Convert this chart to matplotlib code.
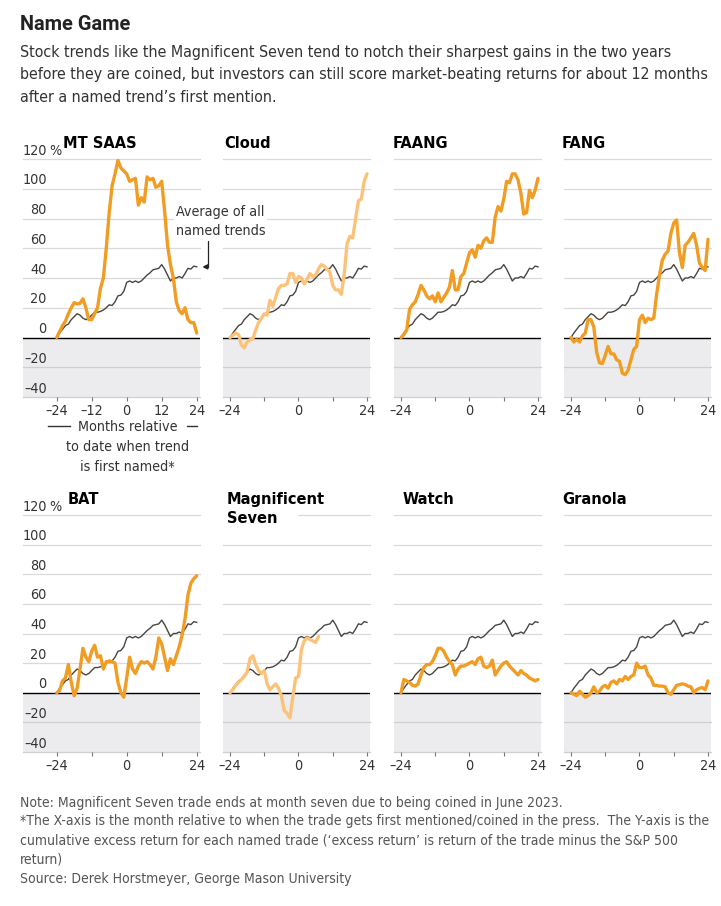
import os
import matplotlib
matplotlib.use("Agg")
import matplotlib.pyplot as plt
from matplotlib import font_manager
from matplotlib.font_manager import FontProperties
from matplotlib.lines import Line2D
from matplotlib.patches import Rectangle

# ---------------- data ----------------
months = list(range(-24, 25))

average = [0, 3, 5.5, 8, 9, 12, 14, 16, 15, 13, 12, 13,
           15, 17, 17, 17.5, 18.5, 20, 22, 21.5, 24, 28, 28.5, 31,
           37, 38, 37, 38, 37, 38, 40, 42, 43.5, 45.5, 46, 46.5,
           49, 46, 42, 38, 40, 40, 41, 40, 43, 46.5, 46, 48, 47.5]

mt_saas = [0, 4, 8, 11, 16, 20, 23.5, 22.5, 23, 26, 20, 12,
           12, 16, 20, 33, 40, 60, 84, 102, 110, 119, 114, 112,
           110, 105, 106, 107, 89, 94, 91, 108, 106, 107, 101, 102,
           105, 85, 62, 49, 40, 24, 18, 16, 20, 12, 10, 10, 3]

cloud = [0, 1.5, 3, 2, -5, -7, -3, -1.5, -1, 5, 10, 13,
         16, 15, 25, 21, 27, 33, 35, 35, 36, 43, 43, 37,
         41, 40, 36, 39, 43, 41, 42, 46, 49, 48, 46, 44,
         35, 32, 32, 29, 42, 63, 68, 67, 80, 92, 93, 105, 110]

faang = [0, 2, 5, 19, 22, 24, 29, 35, 32, 28, 26, 28,
         24, 30, 24, 27, 30, 34, 45, 32, 32, 41, 43, 50,
         57, 59, 54, 62, 60, 65, 67, 64, 64, 81, 88, 85,
         93, 105, 104, 110, 110, 106, 97, 83, 84, 99, 94, 99, 107]

fang = [0, -3, -1, -3, 1, 3, 12, 12, 7, -10, -17, -17.5,
        -12, -6, -11, -11, -15, -16, -24, -25, -22, -15, -8, -6,
        12, 15, 10, 13, 12, 13, 29, 42, 52, 56, 58, 70,
        77, 79, 57, 47, 62, 64, 67, 70, 62, 50, 47, 45, 66]

bat = [0, 1.5, 8, 10, 19, 7, -2, 3, 16, 30, 24, 21,
       28, 32, 24, 25, 16, 21, 21, 21, 20, 7, 0, -3,
       10, 24, 16, 13, 18, 21, 20, 21, 19, 16, 24, 37,
       33, 24, 15, 23, 19, 25, 31, 39, 50, 66, 74, 77, 79]

magnificent_seven = [0, 2, 5, 7, 9, 11, 14, 23, 25, 19, 15, 13,
                     15, 6, 2, 4, 6, 3, -2, -12, -14, -17, -3, 10,
                     11, 29, 35, 37, 36, 35, 34, 38]

watch = [0, 9, 8, 7, 5, 4.5, 6, 12, 17, 19, 19, 21,
         25, 30, 30, 28, 24, 21, 19, 12, 16, 18, 18, 19,
         20, 21, 19, 23, 24, 18, 17, 18, 22, 12, 15, 18,
         20, 21, 18, 16, 14, 12, 15, 13, 12, 10, 9, 8, 9]

granola = [0, -1, -2, 1, -1, -3, -2, 0, 4, 0, 1, 4,
           5, 3, 7, 8, 6, 9, 8, 11, 9, 11, 12, 20,
           17, 17, 18, 12, 10, 5, 5, 4.5, 4.5, 4, 0, -1,
           2, 5, 5.5, 6, 5.5, 4.5, 4, 0, 2, 3, 3.5, 2, 8]

panel_titles = ["MT SAAS", "Cloud", "FAANG", "FANG",
                "BAT", "Magnificent\nSeven", "Watch", "Granola"]
panel_series = [mt_saas, cloud, faang, fang, bat, magnificent_seven, watch, granola]
light_panels = ["Cloud", "Magnificent\nSeven"]

y_ticks = [-40, -20, 0, 20, 40, 60, 80, 100, 120]
y_tick_labels = ["\u201340", "\u201320", "0", "20", "40", "60", "80", "100", "120"]
x_ticks = [-24, -12, 0, 12, 24]
x_labels_full = ["\u201324", "\u201312", "0", "12", "24"]
x_labels_short = ["\u201324", "", "0", "", "24"]

title = "Name Game"
subtitle = ["Stock trends like the Magnificent Seven tend to notch their sharpest gains in the two years",
            "before they are coined, but investors can still score market-beating returns for about 12 months",
            "after a named trend\u2019s first mention."]
notes = ["Note: Magnificent Seven trade ends at month seven due to being coined in June 2023.",
         "*The X-axis is the month relative to when the trade gets first mentioned/coined in the press.  The Y-axis is the",
         "cumulative excess return for each named trade (\u2018excess return\u2019 is return of the trade minus the S&P 500",
         "return)",
         "Source: Derek Horstmeyer, George Mason University"]

# ---------------- fonts ----------------
files = {os.path.basename(f.fname): f.fname for f in font_manager.fontManager.ttflist}
narrow_path = None
for cand in ["LiberationSansNarrow-Regular.ttf", "DejaVuSansCondensed.ttf",
             "Roboto-Regular.ttf", "Lato-Regular.ttf"]:
    if cand in files:
        narrow_path = files[cand]
        break


def nfp(size):
    if narrow_path:
        return FontProperties(fname=narrow_path, size=size)
    return FontProperties(family="Roboto", size=size)


ORANGE = "#f19c22"
LIGHT = "#fdc27a"
AVG = "#4a4541"
SHADE = "#ececee"
GRID = "#dadada"
GRID_DARK = "#cfcfd1"
TXT = "#333333"

W, H = 721, 906
fig = plt.figure(figsize=(W / 100, H / 100), dpi=100)
renderer = fig.canvas.get_renderer()


def fit_size(text, target_px, base=12.0):
    t = fig.text(0, 0, text, fontproperties=nfp(base))
    w = t.get_window_extent(renderer).width
    t.remove()
    return base * target_px / w


sub_size = min(fit_size(subtitle[1], 692), 12.6)
note_size = min(fit_size(notes[1], 686), 10.5)
small = note_size * 1.03


def fx(px):
    return px / W


def fy(py):
    return 1 - py / H


XL = (-26.45, 25.05)
cols = [(23, 177, (-35.55, 25.13)), (223, 147, XL), (394, 147, XL), (564, 147, XL)]
rows = [(159, 397), (515, 752)]

axes = []
for i, (name, series) in enumerate(zip(panel_titles, panel_series)):
    r, c = divmod(i, 4)
    left, width, xl = cols[c]
    top, bottom = rows[r]
    ax = fig.add_axes([fx(left), fy(bottom), width / W, (bottom - top) / H])
    ax.set_xlim(*xl)
    ax.set_ylim(-40, 120)
    ax.axhspan(-40, 0, color=SHADE, lw=0, zorder=0)
    for v in y_ticks:
        if v == 0:
            continue
        ax.axhline(v, color=GRID if v > 0 else GRID_DARK, lw=0.9, zorder=1, clip_on=False)
    ax.axhline(0, color="black", lw=1.0, zorder=3)
    ax.plot(months, average, color=AVG, lw=1.0, zorder=4)
    col = LIGHT if name in light_panels else ORANGE
    ax.plot(months[:len(series)], series, color=col, lw=2.4, zorder=5,
            solid_joinstyle="round", solid_capstyle="round")
    for s in ax.spines.values():
        s.set_visible(False)
    ax.set_yticks([])
    ax.set_xticks(x_ticks)
    ax.set_xticklabels(x_labels_full if i == 0 else x_labels_short)
    for lab in ax.get_xticklabels():
        lab.set_fontproperties(nfp(small))
    ax.tick_params(axis="x", length=3, width=0.8, color="#777777", pad=2, labelcolor=TXT)
    ax.set_facecolor("none")
    if c == 0:
        for v, lab in zip(y_ticks, y_tick_labels):
            ax.text(-27.4, v + 3, lab, ha="right", va="baseline",
                    fontproperties=nfp(small), color=TXT)
        ax.text(-26.6, 123, "%", ha="left", va="baseline", fontproperties=nfp(small), color=TXT)
    axes.append(ax)

# panel titles
title_pos = [(63, 148), (224, 148), (393, 148), (562, 148),
             (68, 504), (227, 504), (403, 504), (562, 504)]
for name, (px, py) in zip(panel_titles, title_pos):
    if "\n" in name:
        l1, l2 = name.split("\n")
        fig.add_artist(Rectangle((fx(223), fy(522)), (297 - 223) / W, 14 / H,
                                 transform=fig.transFigure, color="white", zorder=2))
        fig.text(fx(px), fy(py), l1, fontsize=10.5, fontweight="bold",
                 family="DejaVu Sans", color="black", va="baseline", zorder=3)
        fig.text(fx(px), fy(py + 19), l2, fontsize=10.5, fontweight="bold",
                 family="DejaVu Sans", color="black", va="baseline", zorder=3)
    else:
        fig.text(fx(px), fy(py), name, fontsize=10.5, fontweight="bold",
                 family="DejaVu Sans", color="black", va="baseline", zorder=3)

# average annotation
for txt, py in [("Average of all", 216), ("named trends", 235)]:
    fig.text(fx(176), fy(py), txt, fontproperties=nfp(small), color=TXT, va="baseline", zorder=3,
             bbox=dict(boxstyle="square,pad=0.15", fc="white", ec="none"))
axes[0].annotate("", xy=(24, average[-1]), xycoords="data",
                 xytext=(fx(208), fy(241)), textcoords="figure fraction",
                 arrowprops=dict(arrowstyle="-|>,head_length=0.3,head_width=0.15",
                                 color="#222222", lw=0.9, shrinkA=0, shrinkB=4,
                                 connectionstyle="angle,angleA=90,angleB=0,rad=0"),
                 annotation_clip=False, zorder=6)

# x-axis description
for txt, py in [("Months relative", 431), ("to date when trend", 451), ("is first named*", 471)]:
    fig.text(fx(127.5), fy(py), txt, fontproperties=nfp(small), color=TXT,
             ha="center", va="baseline")
for x0, x1 in [(48, 70), (187, 197)]:
    fig.add_artist(Line2D([fx(x0), fx(x1)], [fy(426), fy(426)], color=TXT, lw=1.0,
                          transform=fig.transFigure))

# headline texts
fig.text(fx(20), fy(30.5), title, fontsize=14.4, fontweight="bold", family="Roboto",
         color="#222222", va="baseline")
for k, line in enumerate(subtitle):
    fig.text(fx(20), fy(57.3 + 22.2 * k), line, fontproperties=nfp(sub_size),
             color=TXT, va="baseline")
for line, py in zip(notes, [806.7, 825.5, 845, 863.5, 883]):
    fig.text(fx(20), fy(py), line, fontproperties=nfp(note_size), color="#555555",
             va="baseline")

fig.savefig("out.png", dpi=100)
